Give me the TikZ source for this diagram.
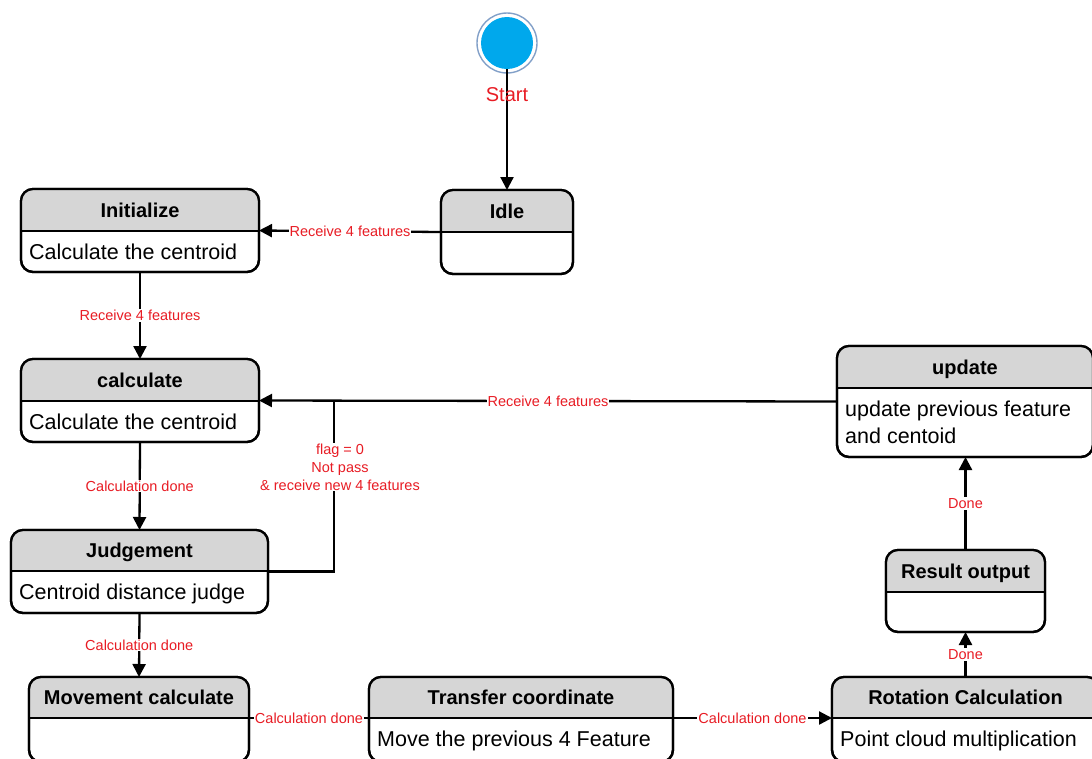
\documentclass[tikz,border=0pt]{standalone}
\usepackage{fontspec}
\setmainfont{Liberation Sans}
\usetikzlibrary{arrows.meta,fit}

\definecolor{hdr}{RGB}{214,214,214}
\definecolor{lbl}{RGB}{232,28,36}
\definecolor{startfill}{RGB}{0,168,236}
\definecolor{ring}{RGB}{130,160,200}

\tikzset{
  stbox/.style={draw=black, line width=2.3pt, rounded corners=12pt, fill=white, inner sep=0pt, outer sep=0pt},
  conn/.style={line width=2.3pt, -{Triangle[length=13pt,width=13pt]}},
  plain/.style={line width=2.3pt},
  lab/.style={text=lbl, fill=white, inner sep=1pt, font=\fontsize{14.5}{18}\selectfont},
  ttl/.style={anchor=base, font=\bfseries\fontsize{20}{24}\selectfont},
  bdy/.style={anchor=base west, inner sep=0pt, font=\fontsize{21.5}{27}\selectfont},
}

% \statebox{name}{x1}{y1}{x2}{y2}{divider y}{title}{body}
\newcommand\statebox[8]{%
  \node[stbox, fit={(#2,#3) (#4,#5)}] (#1) {};
  \begin{scope}
    \clip[rounded corners=12pt] (#2,#3) rectangle (#4,#5);
    \fill[hdr] (#2,#3) rectangle (#4,#6);
  \end{scope}
  \draw[plain] (#2,#6) -- (#4,#6);
  \draw[line width=2.3pt, rounded corners=12pt] (#2,#3) rectangle (#4,#5);
  \node[ttl] at ({(#2+#4)/2},{(#3+#6)/2+7}) {#7};
  \node[bdy] at ({#2+8},{#6+28}) {#8};
}

\begin{document}
\begin{tikzpicture}[x=1pt,y=-1pt]
  \useasboundingbox (0,0) rectangle (1092,758);

  % initial state
  \draw[ring, line width=1.4pt] (507,43) circle (30);
  \node[circle, fill=startfill, minimum size=52pt, inner sep=0pt, outer sep=0pt] (start) at (507,43) {};

  % states
  \statebox{idle}{441}{190}{573}{274}{232}{Idle}{}
  \statebox{init}{21}{189}{259}{272}{231}{Initialize}{Calculate the centroid}
  \statebox{calc}{21}{359}{259}{442}{401}{calculate}{Calculate the centroid}
  \statebox{judge}{11}{530}{268}{613}{571}{Judgement}{Centroid distance judge}
  \statebox{move}{29}{677}{249}{762}{718}{Movement calculate}{}
  \statebox{transfer}{369}{677}{673}{762}{718}{Transfer coordinate}{Move the previous 4 Feature}
  \statebox{rot}{832}{677}{1099}{762}{718}{Rotation Calculation}{Point cloud multiplication}
  \statebox{result}{886}{550}{1045}{632}{592}{Result output}{}
  \statebox{update}{837}{346}{1093}{457}{388}{update}{update previous feature}
  \node[bdy] (update2) at (845,443) {and centoid};

  % transitions
  \draw[conn] (start.south) -- (idle.north);
  \node[text=lbl, font=\fontsize{20}{24}\selectfont] (startlbl) at (507,95) {Start};

  \draw[conn] (idle.west) -- node[lab, midway] {Receive 4 features} (init.east);
  \draw[conn] (init.south) -- node[lab, midway] {Receive 4 features} (calc.north);
  \draw[conn] (update.west) -- node[lab, midway] {Receive 4 features} (calc.east);
  \coordinate (loopc) at (334,401);
  \draw[plain] (judge.east) -| (loopc);
  \node[lab, align=center] (flaglbl) at (340,467) {flag = 0\\Not pass\\\& receive new 4 features};
  \draw[conn] (calc.south) -- node[lab, midway] {Calculation done} (judge.north);
  \draw[conn] (judge.south) -- node[lab, midway] {Calculation done} (move.north);
  \draw[plain] (move.east |- 0,718) -- node[lab, midway] {Calculation done} (transfer.west |- 0,718);
  \draw[conn] (transfer.east |- 0,718) -- node[lab, midway] {Calculation done} (rot.west |- 0,718);
  \draw[conn] (rot.north -| result.south) -- node[lab, midway] {Done} (result.south);
  \draw[conn] (result.north) -- node[lab, midway] {Done} (update.south -| result.north);
\end{tikzpicture}
\end{document}
